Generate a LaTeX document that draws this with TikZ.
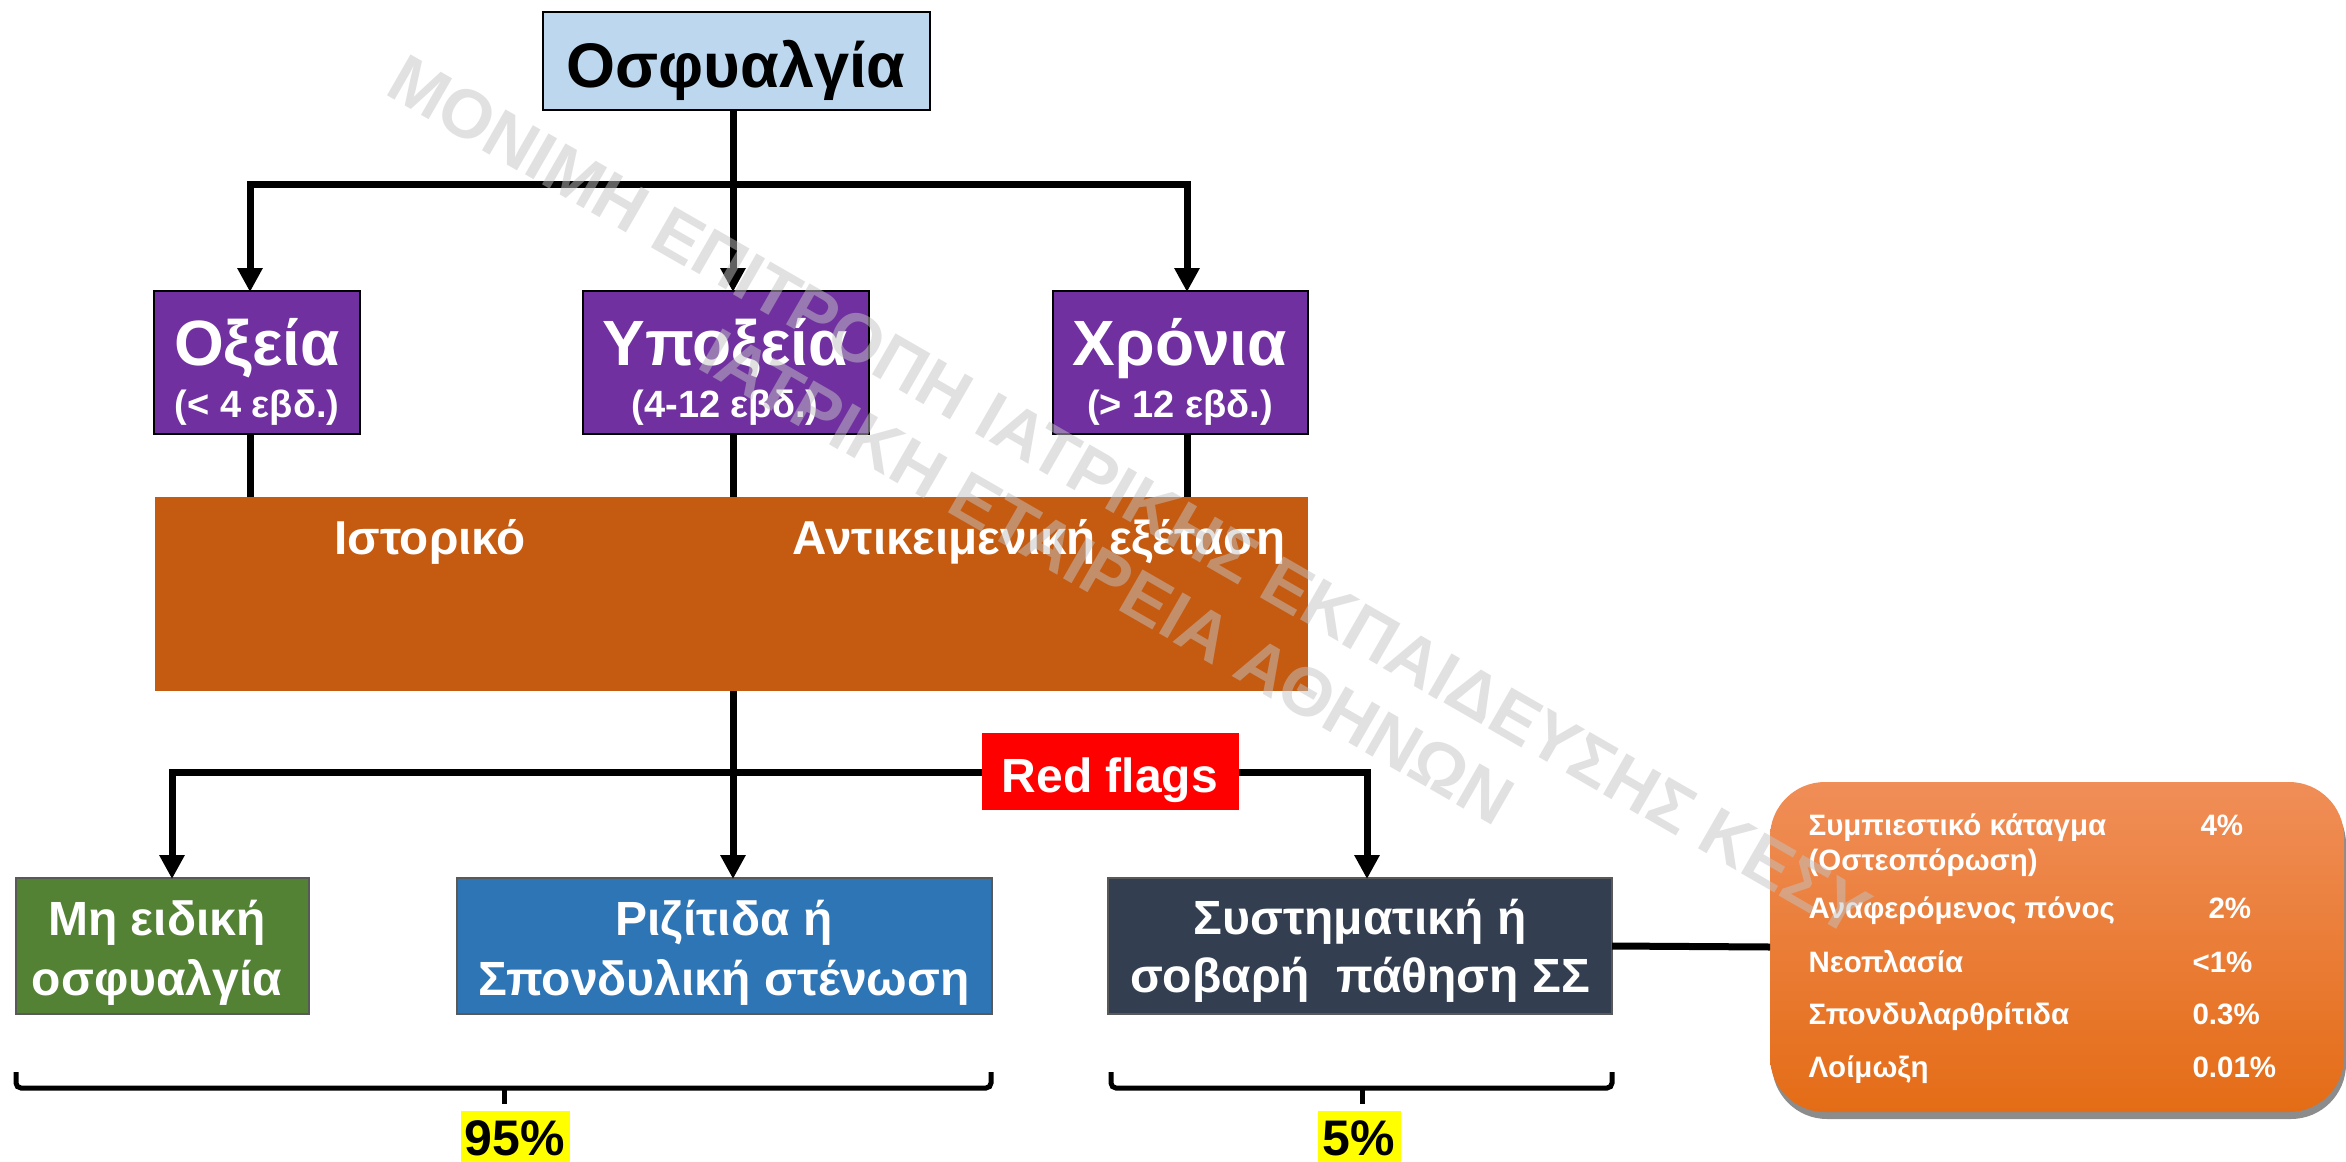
\documentclass[tikz,border=0pt]{standalone}
\usepackage{fontspec}
\setmainfont{Liberation Sans}
\usetikzlibrary{arrows.meta,shadows}
\definecolor{skyb}{RGB}{189,215,238}
\definecolor{purp}{RGB}{112,48,160}
\definecolor{rust}{RGB}{197,90,17}
\definecolor{leaf}{RGB}{84,130,53}
\definecolor{ocean}{RGB}{46,117,182}
\definecolor{slate}{RGB}{51,63,80}
\definecolor{flagred}{RGB}{255,0,0}
\definecolor{hiyel}{RGB}{255,255,0}
\definecolor{orTop}{RGB}{240,142,88}
\definecolor{orMid}{RGB}{242,125,46}
\definecolor{orBot}{RGB}{228,108,22}
\definecolor{wmgray}{RGB}{195,195,195}
\newcommand\setfs[1]{\fontsize{#1}{#1}\selectfont}
\begin{document}
\begin{tikzpicture}[x=1pt,y=-1pt,
  boxn/.style={anchor=north west,inner sep=0pt,outer sep=0pt},
  conn/.style={line width=7pt,draw=black,line join=miter},
  arr/.style={conn,-{Triangle[length=24pt,width=24pt]},shorten >=-1pt},
  brk/.style={line width=5pt,draw=black,rounded corners=5pt},
  wtxt/.style={anchor=base,text=white,font=\bfseries},
  btxt/.style={anchor=base,text=black,font=\bfseries},
  rtxt/.style={anchor=base west,text=white,font=\bfseries\setfs{29.5}},
  wmark/.style={rotate=-29.9,anchor=base west,text=wmgray,text opacity=0.5,inner sep=0pt,font=\bfseries\setfs{68.6}}]
\useasboundingbox (0,0) rectangle (2346,1162);

% ---------- boxes ----------
\node[boxn,draw=black,line width=2pt,fill=skyb,minimum width=387pt,minimum height=98pt] (top) at (543,12) {};
\node[btxt,font=\bfseries\setfs{63}] (topt) at (736,87) {Οσφυαλγία};

\node[boxn,draw=black,line width=2pt,fill=purp,minimum width=206pt,minimum height=143pt] (A) at (154,291) {};
\node[boxn,draw=black,line width=2pt,fill=purp,minimum width=286pt,minimum height=143pt] (B) at (583,291) {};
\node[boxn,draw=black,line width=2pt,fill=purp,minimum width=255pt,minimum height=143pt] (C) at (1053,291) {};
\node[wtxt,font=\bfseries\setfs{64}] (At1) at (257,365) {Οξεία};
\node[wtxt,font=\bfseries\setfs{38}] (At2) at (257,417) {(< 4 εβδ.)};
\node[wtxt,font=\bfseries\setfs{64}] (Bt1) at (725,365) {Υποξεία};
\node[wtxt,font=\bfseries\setfs{38}] (Bt2) at (725,417) {(4-12 εβδ.)};
\node[wtxt,font=\bfseries\setfs{64}] (Ct1) at (1180,365) {Χρόνια};
\node[wtxt,font=\bfseries\setfs{38}] (Ct2) at (1180,417) {(> 12 εβδ.)};

\node[boxn,fill=rust,minimum width=1153pt,minimum height=194pt] (hist) at (155,497) {};
\node[wtxt,font=\bfseries\setfs{47.6}] (hist1) at (430,554) {Ιστορικό};
\node[wtxt,font=\bfseries\setfs{47.6}] (hist2) at (1039,554) {Αντικειμενική εξέταση};

\node[boxn,draw=black!65,line width=2pt,fill=leaf,minimum width=293pt,minimum height=136pt] (G) at (16,878) {};
\node[boxn,draw=black!65,line width=2pt,fill=ocean,minimum width=535pt,minimum height=136pt] (Bl) at (457,878) {};
\node[boxn,draw=black!65,line width=2pt,fill=slate,minimum width=504pt,minimum height=136pt] (D) at (1108,878) {};
\node[wtxt,font=\bfseries\setfs{48}] (Gt1) at (157,935) {Μη ειδική};
\node[wtxt,font=\bfseries\setfs{48}] (Gt2) at (157,995) {οσφυαλγία};
\node[wtxt,font=\bfseries\setfs{48}] (Blt1) at (724,935) {Ριζίτιδα ή};
\node[wtxt,font=\bfseries\setfs{48}] (Blt2) at (724,995) {Σπονδυλική στένωση};
\node[wtxt,font=\bfseries\setfs{48}] (Dt1) at (1360,934) {Συστηματική ή};
\node[wtxt,font=\bfseries\setfs{48}] (Dt2) at (1360,992) {σοβαρή\ \ πάθηση ΣΣ};

% ---------- connectors ----------
\coordinate (xa) at (250,0);
\coordinate (xb) at (733,0);
\coordinate (xc) at (1187,0);
\coordinate (xg) at (172,0);
\coordinate (xd) at (1367,0);
\coordinate (j1) at (733,184);
\coordinate (j2) at (733,772);

\draw[conn] (xb |- top.south) -- (j1);
\draw[arr] (j1) -| (xa |- A.north);
\draw[arr] (j1) -- (xb |- B.north);
\draw[arr] (j1) -| (xc |- C.north);
\draw[conn] (xa |- A.south) -- (xa |- hist.north);
\draw[conn] (xb |- B.south) -- (xb |- hist.north);
\draw[conn] (xc |- C.south) -- (xc |- hist.north);

\draw[conn] (xb |- hist.south) -- (j2);
\draw[arr] (j2) -| (xg |- G.north);
\draw[arr] (j2) -- (xb |- Bl.north);
\draw[arr] (j2) -| (xd |- D.north);

\node[boxn,fill=flagred,minimum width=257pt,minimum height=77pt] (rf) at (982,733) {};
\node[wtxt,font=\bfseries\setfs{48}] (rft) at (1110,792) {Red flags};

% ---------- right box ----------
\node[boxn,rounded corners=55pt,top color=orTop,middle color=orMid,bottom color=orBot,
  drop shadow={shadow xshift=2pt,shadow yshift=-7pt,opacity=0.45,fill=black},
  minimum width=574pt,minimum height=330pt] (rbox) at (1770,782) {};
\draw[conn] (D.east) -- (rbox.west);
\node[rtxt] (r1) at (1805,835) {Συμπιεστικό κάταγμα};
\node[rtxt] (r1b) at (1805,870) {(Οστεοπόρωση)};
\node[rtxt] (r2) at (1805,918) {Αναφερόμενος πόνος};
\node[rtxt] (r3) at (1805,972) {Νεοπλασία};
\node[rtxt] (r4) at (1805,1024) {Σπονδυλαρθρίτιδα};
\node[rtxt] (r5) at (1805,1077) {Λοίμωξη};
\node[rtxt] (p1) at (2197,835) {4\%};
\node[rtxt] (p2) at (2205,918) {2\%};
\node[rtxt] (p3) at (2189,972) {<1\%};
\node[rtxt] (p4) at (2189,1024) {0.3\%};
\node[rtxt] (p5) at (2189,1077) {0.01\%};

% ---------- brackets ----------
\coordinate (k1a) at (16,1072);  \coordinate (k1b) at (991,1072);
\coordinate (k1m) at (504,1088); \coordinate (k1t) at (504,1104);
\coordinate (k2a) at (1111,1072); \coordinate (k2b) at (1612,1072);
\coordinate (k2m) at (1362,1088); \coordinate (k2t) at (1362,1104);
\draw[brk] (k1a) -- (k1a |- k1m) -- (k1b |- k1m) -- (k1b);
\draw[line width=5pt] (k1m) -- (k1t);
\draw[brk] (k2a) -- (k2a |- k2m) -- (k2b |- k2m) -- (k2b);
\draw[line width=5pt] (k2m) -- (k2t);

\node[boxn,fill=hiyel,minimum width=109pt,minimum height=55pt] (y1) at (461,1111) {};
\node[btxt,font=\bfseries\setfs{50}] (y1t) at (515,1155) {95\%};
\node[boxn,fill=hiyel,minimum width=83pt,minimum height=55pt] (y2) at (1318,1111) {};
\node[btxt,font=\bfseries\setfs{50}] (y2t) at (1359,1155) {5\%};

% ---------- watermark ----------
\node[wmark] (wm1) at (383,93) {ΜΟΝΙΜΗ ΕΠΙΤΡΟΠΗ ΙΑΤΡΙΚΗΣ ΕΚΠΑΙΔΕΥΣΗΣ ΚΕΣΥ};
\node[wmark] (wm2) at (695,367) {ΙΑΤΡΙΚΗ ΕΤΑΙΡΕΙΑ ΑΘΗΝΩΝ};
\end{tikzpicture}
\end{document}
